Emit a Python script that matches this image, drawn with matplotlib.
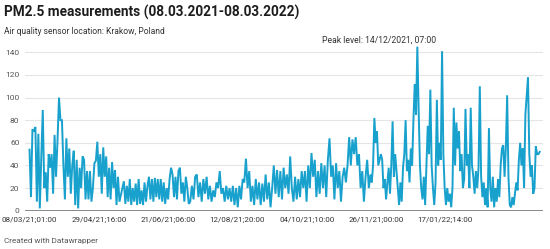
import numpy as np
import matplotlib
matplotlib.use("Agg")
import matplotlib.pyplot as plt

plt.rcParams['font.family'] = ['Roboto', 'DejaVu Sans']

# PM2.5 readings (µg/m³) in three consecutive stretches
seg_a_vals = [54, 12, 72, 70, 74, 8, 68, 2, 48, 89,
              20, 34, 8, 50, 38, 50, 15, 67, 30, 62,
              100, 80, 80, 40, 10, 64, 30, 55, 15, 40,
              53, 5, 45, 2, 38, 20, 48, 45, 10, 35,
              10, 35, 8, 20, 42, 44, 61, 30, 50, 15,
              56, 30, 48, 12, 38, 10, 43, 20, 36, 5,
              30, 8, 14, 20, 26, 6, 22, 8, 28, 5,
              20, 8, 24, 5, 28, 6, 18, 5, 25, 8,
              22, 30, 10, 28, 8, 29, 12, 28, 10, 28,
              8, 25, 6, 20, 10, 28, 38, 32, 12, 30,
              10, 35, 38, 15, 25, 8, 30, 20, 6]
seg_b_vals = [8, 22, 10, 30, 32, 12, 25, 8, 28, 15,
              30, 10, 22, 8, 18, 12, 25, 20, 35, 15,
              20, 8, 22, 10, 20, 8, 22, 5, 20, 3,
              22, 10, 28, 25, 46, 20, 35, 8, 22, 5,
              28, 10, 25, 5, 24, 8, 32, 10, 25, 3,
              20, 40, 15, 36, 12, 35, 10, 38, 20, 32,
              15, 48, 20, 8, 30, 10, 28, 12, 35, 20,
              35, 8, 40, 20, 51, 30, 45, 12, 35, 15,
              42, 20, 40, 12, 45, 64, 30, 40, 10, 42,
              20, 35, 8, 30, 38, 25, 40, 65, 40, 63,
              50, 65, 40, 50, 20, 35, 8, 30, 45, 20]
seg_c_vals = [32, 25, 40, 82, 60, 70, 40, 45, 50, 45,
              20, 28, 10, 25, 38, 15, 40, 79, 30, 50,
              35, 20, 5, 25, 8, 38, 50, 80, 35, 45,
              25, 55, 40, 80, 112, 85, 145, 90, 40, 20,
              10, 30, 5, 40, 75, 50, 107, 40, 20, 5,
              25, 98, 40, 60, 45, 141, 50, 20, 5, 20,
              8, 15, 3, 20, 91, 40, 78, 55, 70, 35,
              50, 20, 28, 90, 40, 50, 20, 91, 40, 30,
              15, 35, 20, 38, 110, 30, 12, 25, 5, 20,
              3, 73, 20, 8, 30, 3, 20, 8, 28, 12,
              40, 55, 58, 30, 56, 102, 30, 5, 3, 12,
              5, 15, 25, 18, 45, 60, 40, 55, 20, 85,
              102, 118, 50, 30, 40, 15, 20, 57, 50, 50,
              52]
# record-number boundaries of the three stretches
seg_bounds = [0, 2930, 6215, 9300]

tick_rows = [0, 1263, 2526, 3789, 5052, 6315, 7578]
tick_labels = ["08/03/21;01:00", "29/04/21;16:00", "21/06/21;06:00",
               "12/08/21;20:00", "04/10/21;10:00", "26/11/21;00:00",
               "17/01/22;14:00"]
y_ticks = [0, 20, 40, 60, 80, 100, 120, 140]

title = "PM2.5 measurements (08.03.2021-08.03.2022)"
subtitle = "Air quality sensor location: Krakow, Poland"
annotation = "Peak level: 14/12/2021, 07:00"
footer = "Created with Datawrapper"

W, H = 550, 249
fig = plt.figure(figsize=(W / 100, H / 100), dpi=100)

# axes box in pixels
ax_left, ax_right = 25, 543
ax_bottom_px, ax_top_px = 210.7, 41.0
ax = fig.add_axes([ax_left / W, (H - ax_bottom_px) / H,
                   (ax_right - ax_left) / W, (ax_bottom_px - ax_top_px) / H])

segs = [seg_a_vals, seg_b_vals, seg_c_vals]
xs, ys = [], []
for i, vals in enumerate(segs):
    end = seg_bounds[i + 1]
    x = np.linspace(seg_bounds[i], end, len(vals), endpoint=(i == len(segs) - 1))
    xs.append(x)
    ys.append(np.array(vals, dtype=float))
x_all = np.concatenate(xs)
y_all = np.concatenate(ys)

ax.plot(x_all, y_all, color="#18a1cd", lw=1.4, solid_joinstyle="miter", zorder=3, clip_on=False)

ax.set_xlim(-82, 9360)
ax.set_ylim(0, 150)

for v in y_ticks[1:]:
    ax.axhline(v, color="#e5e5e5", lw=0.8, zorder=1)
ax.axhline(0, color="#888888", lw=1.4, zorder=4)

for s in ax.spines.values():
    s.set_visible(False)

ax.set_yticks(y_ticks)
ax.set_yticklabels([str(v) for v in y_ticks])
ax.set_xticks(tick_rows)
ax.set_xticklabels(tick_labels)
ax.tick_params(axis='y', length=0, pad=4, labelsize=6.0, labelcolor="#555555")
ax.tick_params(axis='x', length=0, pad=4.5, labelsize=5.8, labelcolor="#333333")

fig.text(4 / W, 1 - 12 / H, title, fontsize=9.8, fontweight="bold", color="#1d1d1d",
         va="center", ha="left")
fig.text(4 / W, 1 - 31 / H, subtitle, fontsize=6.15, color="#333333", va="center", ha="left")
fig.text(379 / W, 1 - 40 / H, annotation, fontsize=6.25, color="#333333", va="center", ha="center")
fig.text(4 / W, 1 - 241 / H, footer, fontsize=5.9, color="#555555", va="center", ha="left")

fig.savefig("out.png", dpi=100)
